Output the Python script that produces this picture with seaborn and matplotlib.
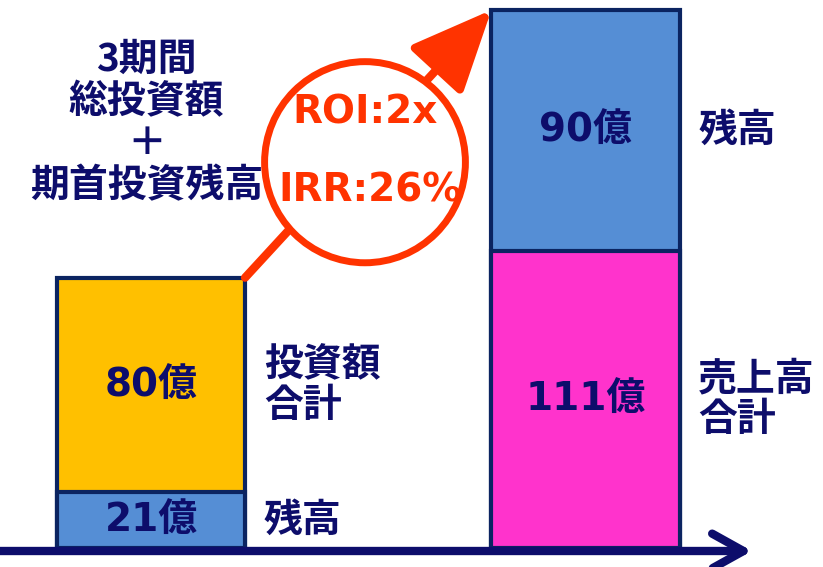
import numpy as np
import pandas as pd
import matplotlib
matplotlib.use('Agg')
import matplotlib.pyplot as plt
from matplotlib.patches import Ellipse
import seaborn as sns

# データ（単位：億）
categories = ['投資', '回収']
bottom_values = [21, 111]
top_values = [80, 90]
bottom_labels = ['残高', '売上高\n合計']
top_labels = ['投資額\n合計', '残高']
title_text = '3期間\n総投資額\n＋\n期首投資残高'
roi_text = 'ROI:2x'
irr_text = 'IRR:26%'

NAVY = '#0d0d6b'
EDGE = '#0b2461'
RED = '#ff3300'
bottom_colors = ['#558ed5', '#ff33cc']
top_colors = ['#ffc000', '#558ed5']


def set_style():
    sns.set_theme(style='white')
    plt.rcParams['font.family'] = ['Noto Sans CJK JP', 'DejaVu Sans']
    plt.rcParams['axes.unicode_minus'] = False


def main():
    set_style()
    fig = plt.figure(figsize=(8.23, 5.67), dpi=100)
    fig.patch.set_facecolor('white')
    ax = fig.add_axes([0, 19 / 567, 1, 548 / 567])

    df = pd.DataFrame({'cat': categories, 'bottom': bottom_values, 'top': top_values})
    df['total'] = df['bottom'] + df['top']
    bar_w = 0.433

    # 積み上げ棒：合計を先に描き、その上に下段を重ねる
    sns.barplot(data=df, x='cat', y='total', hue='cat', palette=top_colors, dodge=False,
                saturation=1, width=bar_w, edgecolor=EDGE, linewidth=3, legend=False,
                ax=ax, zorder=2)
    sns.barplot(data=df, x='cat', y='bottom', hue='cat', palette=bottom_colors, dodge=False,
                saturation=1, width=bar_w, edgecolor=EDGE, linewidth=3, legend=False,
                ax=ax, zorder=3)

    ax.set_xlim(-151 / 434.5, (823 - 151) / 434.5)
    ax.set_ylim(0, df['total'].max() * 548 / 538)
    ax.axis('off')

    num_font = ['DejaVu Sans', 'Noto Sans CJK JP']
    for i, row in df.iterrows():
        ax.text(i, row['bottom'] / 2, f"{row['bottom']}億", ha='center', va='center',
                fontsize=28, fontweight='bold', color=NAVY, family=num_font, zorder=5)
        ax.text(i, row['bottom'] + row['top'] / 2, f"{row['top']}億", ha='center', va='center',
                fontsize=28, fontweight='bold', color=NAVY, family=num_font, zorder=5)
        ax.text(i + bar_w / 2 + 0.043, row['bottom'] / 2, bottom_labels[i], ha='left', va='center',
                fontsize=28, fontweight='bold', color=NAVY, linespacing=1.05)
        ax.text(i + bar_w / 2 + 0.043, row['bottom'] + row['top'] / 2, top_labels[i], ha='left',
                va='center', fontsize=28, fontweight='bold', color=NAVY, linespacing=1.05)

    ax.text(-0.01, 159, title_text, ha='center', va='center', fontsize=28,
            fontweight='bold', color=NAVY, linespacing=1.1, zorder=5)

    # 成長の矢印
    ax.annotate('', xy=(1 - bar_w / 2, df['total'][1]), xytext=(bar_w / 2, df['total'][0]),
                arrowprops=dict(arrowstyle='-|>,head_length=0.5,head_width=0.22',
                                mutation_scale=100, lw=6, color=RED, shrinkA=0, shrinkB=0),
                zorder=4)
    circle = Ellipse((0.4435, 0.704), 0.244, 0.367, transform=ax.transAxes,
                     facecolor='white', edgecolor=RED, lw=5, zorder=5)
    ax.add_patch(circle)
    ax.text(0.4435, 0.7956, roi_text, transform=ax.transAxes, ha='center', va='center',
            fontsize=28, fontweight='bold', color=RED, family=num_font, zorder=6)
    ax.text(0.4496, 0.653, irr_text, transform=ax.transAxes, ha='center', va='center',
            fontsize=28, fontweight='bold', color=RED, family=num_font, zorder=6)

    # 時間軸
    ax.annotate('', xy=(752 / 823, 16 / 567), xytext=(0, 16 / 567),
                xycoords='figure fraction', textcoords='figure fraction',
                arrowprops=dict(arrowstyle='->,head_length=0.45,head_width=0.25',
                                mutation_scale=50, lw=6, color=NAVY, shrinkA=0, shrinkB=0),
                annotation_clip=False, zorder=6)

    fig.savefig('out.png', dpi=100, facecolor='white')
    plt.close(fig)


if __name__ == '__main__':
    main()
